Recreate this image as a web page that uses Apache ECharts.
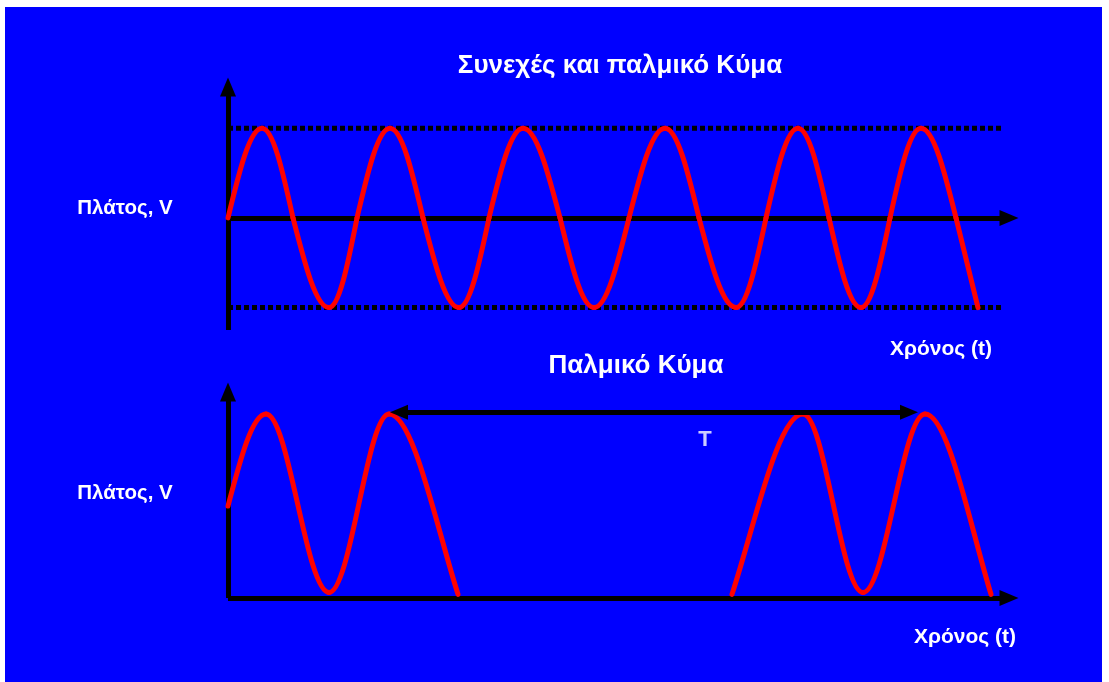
<!DOCTYPE html>
<html>
<head>
<meta charset="utf-8">
<script src="https://cdn.jsdelivr.net/npm/echarts@6/dist/echarts.min.js"></script>
<style>
  html, body { margin: 0; padding: 0; background: #ffffff; width: 1109px; height: 682px; overflow: hidden; }
  #chart { position: absolute; left: 5px; top: 7px; width: 1097px; height: 675px; background: #0000ff; }
</style>
</head>
<body>
<div id="chart"></div>
<script>
// ---- Data (time in px-like units from the axis origin) ----
// Top panel: continuous wave, amplitude normalised to +/-1
// kinds: m = zero crossing, e = peak/trough, c = cut end of the trace
const contTime = [0, 34, 65, 101, 129, 162, 195, 231, 261, 295, 332, 366, 401, 437, 471, 508, 538, 570, 601, 633, 662, 693, 728, 750];
const contAmp  = [0, 1, 0, -1, 0, 1, 0, -1, 0, 1, 0, -1, 0, 1, 0, -1, 0, 1, 0, -1, 0, 1, 0, -1];
const contKind = ['m','e','m','e','m','e','m','e','m','e','m','e','m','e','m','e','m','e','m','e','m','e','m','c'];
// dotted reference levels (+peak / -peak) and their extent
const refLevels = [1, -1];
const refExtent = [0, 776];

// Bottom panel: pulsed wave, two bursts (amplitude above the baseline, peak = 1)
const burst1Time = [0, 38, 101, 161, 230];
const burst1Amp  = [0.5, 1, 0.03, 1, 0.02];
const burst1Kind = ['m', 'e', 'e', 'e', 'c'];
const burst2Time = [504, 575, 635, 697, 763];
const burst2Amp  = [0.02, 1, 0.03, 1, 0.02];
const burst2Kind = ['c', 'e', 'e', 'e', 'c'];
// period marker T (arrow-head centres)
const periodStart = 171, periodEnd = 681, periodLevel = 1.01;
const periodLabel = 'T';
const periodLabelPos = [477, 0.86];

// texts
const mainTitle = 'Συνεχές και παλμικό Κύμα';
const subTitle = 'Παλμικό Κύμα';
const yName = 'Πλάτος, V';
const xName = 'Χρόνος (t)';

const chart = echarts.init(document.getElementById('chart'), null, { renderer: 'canvas' });

const FONT = '"Liberation Sans", Arial, sans-serif';
const LW = 5;
const axisCommon = {
  axisTick: { show: false },
  axisLabel: { show: false },
  splitLine: { show: false }
};
function axisLine() {
  return { show: true, onZero: true, symbol: ['none', 'triangle'], symbolSize: [16, 19], symbolOffset: [0, 0],
           lineStyle: { color: '#000000', width: LW, cap: 'butt' } };
}

function txt(text, x, y, size) {
  return {
    type: 'text', x: x - 5, y: y - 7, silent: true,
    style: { text: text, fill: '#ffffff', font: 'bold ' + size + 'px ' + FONT, textAlign: 'center', textVerticalAlign: 'middle' }
  };
}

// control points for a piece of a sine-like trace between two read points
function ctrl(A, B, ka, kb) {
  const dx = B[0] - A[0], dy = B[1] - A[1];
  const t = ka + kb;
  if (t === 'ee') return [A[0] + 0.3634 * dx, A[1], B[0] - 0.3634 * dx, B[1]];
  if (t === 'me') return [A[0] + 0.326 * dx, A[1] + 0.512 * dy, A[0] + 0.638 * dx, B[1]];
  if (t === 'em') return [A[0] + 0.362 * dx, A[1], A[0] + 0.674 * dx, A[1] + 0.488 * dy];
  if (t === 'ec') return [A[0] + 0.35 * dx, A[1], B[0] - 0.33 * dx, B[1] - 0.4 * dy];
  if (t === 'ce') return [A[0] + 0.33 * dx, A[1] + 0.4 * dy, B[0] - 0.35 * dx, B[1]];
  return [A[0] + dx / 3, A[1] + dy / 3, A[0] + 2 * dx / 3, A[1] + 2 * dy / 3];
}

function wave(times, amps, kinds, axisIdx) {
  const data = times.slice(0, -1).map((tv, i) => [tv, amps[i], times[i + 1], amps[i + 1]]);
  return {
    type: 'custom', xAxisIndex: axisIdx, yAxisIndex: axisIdx, silent: true, clip: false, z: 3,
    encode: { x: [0, 2], y: [1, 3] },
    data: data,
    renderItem: function (params, api) {
      const i = params.dataIndex;
      const A = api.coord([api.value(0), api.value(1)]);
      const B = api.coord([api.value(2), api.value(3)]);
      const c = ctrl(A, B, kinds[i], kinds[i + 1]);
      return {
        type: 'bezierCurve',
        shape: { x1: A[0], y1: A[1], x2: B[0], y2: B[1], cpx1: c[0], cpy1: c[1], cpx2: c[2], cpy2: c[3] },
        style: { stroke: '#ff0000', lineWidth: LW, fill: null, lineCap: 'round' }
      };
    }
  };
}

const option = {
  animation: false,
  backgroundColor: 'transparent',
  grid: [
    { left: 223, top: 80, width: 781, height: 243 },
    { left: 223, top: 385, width: 781, height: 206 }
  ],
  xAxis: [
    Object.assign({ type: 'value', gridIndex: 0, min: 0, max: 781, axisLine: axisLine() }, axisCommon),
    Object.assign({ type: 'value', gridIndex: 1, min: 0, max: 781, axisLine: axisLine() }, axisCommon)
  ],
  yAxis: [
    Object.assign({ type: 'value', gridIndex: 0, min: -1.25, max: 1.46, axisLine: axisLine() }, axisCommon),
    Object.assign({ type: 'value', gridIndex: 1, min: 0, max: 1.12, axisLine: axisLine() }, axisCommon)
  ],
  series: [
    ...refLevels.map(lv => ({
      type: 'line', xAxisIndex: 0, yAxisIndex: 0, silent: true, symbol: 'none', z: 1,
      data: refExtent.map(t => [t, lv]),
      lineStyle: { color: '#000000', width: LW, type: [5, 3], cap: 'butt' }
    })),
    wave(contTime, contAmp, contKind, 0),
    wave(burst1Time, burst1Amp, burst1Kind, 1),
    wave(burst2Time, burst2Amp, burst2Kind, 1),
    {
      type: 'line', xAxisIndex: 1, yAxisIndex: 1, silent: true, symbol: 'none', data: [], z: 4,
      markLine: {
        silent: true, animation: false,
        symbol: ['triangle', 'triangle'], symbolSize: [15, 18],
        lineStyle: { color: '#000000', width: LW, type: 'solid' },
        label: { show: false },
        data: [[{ coord: [periodStart, periodLevel] }, { coord: [periodEnd, periodLevel] }]]
      }
    },
    {
      type: 'scatter', xAxisIndex: 1, yAxisIndex: 1, silent: true, symbolSize: 0,
      data: [periodLabelPos],
      label: { show: true, position: 'inside', formatter: periodLabel, color: '#ffffff', fontSize: 22, fontWeight: 'bold', fontFamily: FONT }
    }
  ],
  graphic: [
    txt(mainTitle, 620, 66, 26),
    txt(subTitle, 636, 366, 26),
    txt(yName, 125, 208, 20.5),
    txt(yName, 125, 493, 20.5),
    txt(xName, 941, 349, 21),
    txt(xName, 965, 637, 21)
  ]
};
chart.setOption(option);
</script>
</body>
</html>
